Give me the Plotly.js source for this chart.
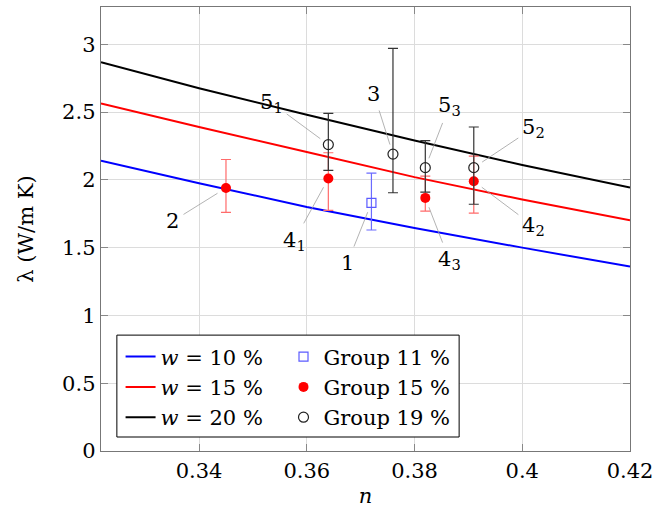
<!DOCTYPE html>
<html>
<head>
<meta charset="utf-8">
<script src="https://cdn.plot.ly/plotly-3.0.1.min.js"></script>
<style>html,body{margin:0;padding:0;background:#fff;}#chart{width:652px;height:510px;}</style>
</head>
<body>
<div id="chart"></div>
<script>
// ---- data ----
const n_curve = [0.3218, 0.34, 0.36, 0.38, 0.40, 0.42];
const lam_w10 = [2.142, 1.975, 1.80, 1.645, 1.50, 1.36];
const lam_w15 = [2.564, 2.39, 2.205, 2.02, 1.855, 1.702];
const lam_w20 = [2.867, 2.675, 2.48, 2.29, 2.11, 1.944];

const g11_n = [0.372];
const g11_lam = [1.83];
const g11_errPlus = [0.22];
const g11_errMinus = [0.20];
const g11_labels = ['1'];

const g15_n = [0.345, 0.364, 0.391, 0.382];
const g15_lam = [1.94, 2.01, 1.99, 1.867];
const g15_errPlus = [0.21, 0.19, 0.185, 0.16];
const g15_errMinus = [0.18, 0.235, 0.235, 0.098];
const g15_labels = ['2', '4<sub>1</sub>', '4<sub>2</sub>', '4<sub>3</sub>'];

const g19_n = [0.364, 0.376, 0.382, 0.391];
const g19_lam = [2.26, 2.19, 2.09, 2.09];
const g19_errPlus = [0.23, 0.78, 0.20, 0.30];
const g19_errMinus = [0.19, 0.285, 0.18, 0.27];
const g19_labels = ['5<sub>1</sub>', '3', '5<sub>3</sub>', '5<sub>2</sub>'];

const seriesNames = ['<i>w</i> = 10 %', '<i>w</i> = 15 %', '<i>w</i> = 20 %'];
const groupNames = ['Group 11 %', 'Group 15 %', 'Group 19 %'];

// ---- label offsets (px, style only) ----
const g11_off = [[-24, 60]];
const g15_off = [[-53, 33], [-34, 62], [60, 45], [24, 62]];
const g19_off = [[-57, -42], [-19, -60], [24, -62], [60, -40]];

const FONT = 'DejaVu Serif';
const FS = 21;

const traces = [
  {x: n_curve, y: lam_w10, mode: 'lines', name: seriesNames[0], line: {color: '#0000ff', width: 2}, legend: 'legend'},
  {x: n_curve, y: lam_w15, mode: 'lines', name: seriesNames[1], line: {color: '#ff0000', width: 2}, legend: 'legend'},
  {x: n_curve, y: lam_w20, mode: 'lines', name: seriesNames[2], line: {color: '#000000', width: 2}, legend: 'legend'},
  {x: g11_n, y: g11_lam, mode: 'markers', name: groupNames[0], legend: 'legend2',
   marker: {symbol: 'square-open', size: 9, color: '#5b5bff', line: {width: 1.2}},
   error_y: {type: 'data', symmetric: false, array: g11_errPlus, arrayminus: g11_errMinus, color: '#6b6bff', thickness: 1.2, width: 5}},
  {x: g15_n, y: g15_lam, mode: 'markers', name: groupNames[1], legend: 'legend2',
   marker: {symbol: 'circle', size: 10, color: '#ff0000'},
   error_y: {type: 'data', symmetric: false, array: g15_errPlus, arrayminus: g15_errMinus, color: '#ff6b6b', thickness: 1.2, width: 5}},
  {x: g19_n, y: g19_lam, mode: 'markers', name: groupNames[2], legend: 'legend2',
   marker: {symbol: 'circle-open', size: 10, color: '#222222', line: {width: 1.2}},
   error_y: {type: 'data', symmetric: false, array: g19_errPlus, arrayminus: g19_errMinus, color: '#333333', thickness: 1.2, width: 5}}
];

const annotations = [];
function addLabels(xs, ys, labels, offs) {
  for (let i = 0; i < xs.length; i++) {
    annotations.push({
      x: xs[i], y: ys[i], xref: 'x', yref: 'y', text: labels[i],
      showarrow: true, arrowhead: 0, arrowwidth: 0.8, arrowcolor: '#a0a0a0',
      ax: offs[i][0], ay: offs[i][1], standoff: 10, startstandoff: 3,
      font: {family: FONT, size: FS, color: '#000'}
    });
  }
}
addLabels(g11_n, g11_lam, g11_labels, g11_off);
addLabels(g15_n, g15_lam, g15_labels, g15_off);
addLabels(g19_n, g19_lam, g19_labels, g19_off);

const axisCommon = {
  showgrid: true, gridcolor: '#dcdcdc', gridwidth: 1,
  showline: true, linecolor: '#777777', linewidth: 1.3, mirror: 'ticks',
  ticks: 'inside', ticklen: 7, tickcolor: '#888888', tickwidth: 1,
  zeroline: false, ticklabeloverflow: 'allow',
  tickfont: {family: FONT, size: FS, color: '#000'}
};

const layout = {
  width: 652, height: 510,
  margin: {l: 101, r: 22, t: 7, b: 59},
  paper_bgcolor: '#fff', plot_bgcolor: '#fff',
  font: {family: FONT, size: FS, color: '#000'},
  xaxis: Object.assign({}, axisCommon, {
    range: [0.3218, 0.42], tick0: 0.34, dtick: 0.02,
    title: {text: '<i>n</i>', font: {family: FONT, size: FS}, standoff: 6}
  }),
  yaxis: Object.assign({}, axisCommon, {
    range: [0, 3.275], tick0: 0, dtick: 0.5,
    title: {text: 'λ (W/m K)', font: {family: FONT, size: FS}, standoff: 22}
  }),
  showlegend: true,
  legend: {x: 0.037, y: 0.258, xanchor: 'left', yanchor: 'top', bgcolor: 'rgba(0,0,0,0)', borderwidth: 0,
           font: {family: FONT, size: FS}, tracegroupgap: 0, itemwidth: 30},
  legend2: {x: 0.345, y: 0.258, xanchor: 'left', yanchor: 'top', bgcolor: 'rgba(0,0,0,0)', borderwidth: 0,
            font: {family: FONT, size: FS}, tracegroupgap: 0, itemwidth: 30},
  shapes: [{type: 'rect', xref: 'paper', yref: 'paper', x0: 0.030, x1: 0.677, y0: 0.0315, y1: 0.261,
            line: {color: '#000', width: 1}, fillcolor: '#fff', layer: 'above'}],
  annotations: annotations
};

Plotly.newPlot('chart', traces, layout, {displayModeBar: false, staticPlot: true});
</script>
</body>
</html>
